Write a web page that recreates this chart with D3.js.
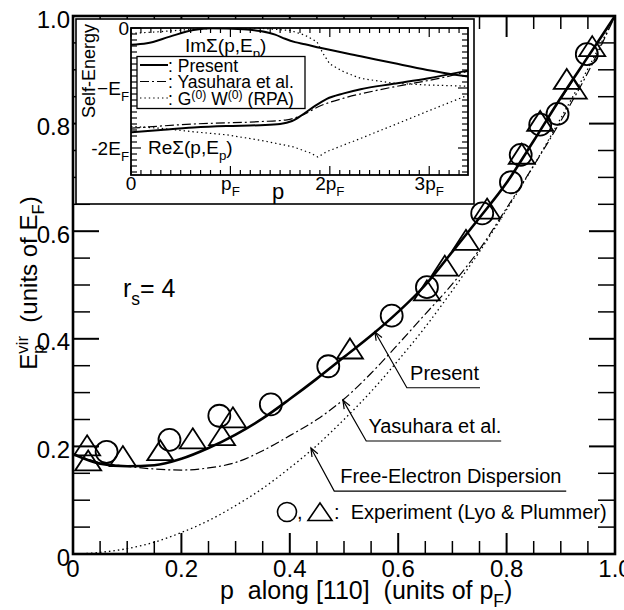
<!DOCTYPE html>
<html>
<head>
<meta charset="utf-8">
<script src="https://cdn.jsdelivr.net/npm/d3@7"></script>
<style>
  body { margin: 0; background: #fff; }
  svg { display: block; }
  text { font-family: "Liberation Sans", Arial, Helvetica, sans-serif; fill: #000; white-space: pre; }
</style>
</head>
<body>
<svg id="chart" width="624" height="610"></svg>
<script>
// ---- main panel data (p in units of pF, E in units of EF) ----
const pGrid = [0, 0.05, 0.1, 0.15, 0.2, 0.25, 0.3, 0.35, 0.4, 0.45, 0.5,
               0.55, 0.6, 0.65, 0.7, 0.75, 0.8, 0.85, 0.9, 0.95, 1.0];
const presentE  = [0.186, 0.168, 0.163, 0.165, 0.177, 0.197, 0.222, 0.252, 0.288, 0.326, 0.366,
                   0.406, 0.450, 0.500, 0.562, 0.625, 0.690, 0.768, 0.848, 0.924, 1.0];
const yasuharaE = [0.186, 0.170, 0.163, 0.158, 0.156, 0.160, 0.170, 0.192, 0.220, 0.250, 0.288,
                   0.336, 0.390, 0.446, 0.502, 0.566, 0.643, 0.722, 0.805, 0.895, 1.0];
const freeE     = [0, 0.003, 0.01, 0.022, 0.04, 0.062, 0.09, 0.122, 0.16, 0.202, 0.25,
                   0.302, 0.36, 0.422, 0.49, 0.562, 0.64, 0.722, 0.81, 0.902, 1.0];

// experiment (Lyo & Plummer)
const circleP = [0.062, 0.178, 0.270, 0.365, 0.471, 0.588, 0.653, 0.755, 0.808, 0.826, 0.862, 0.894, 0.948];
const circleE = [0.190, 0.212, 0.257, 0.278, 0.349, 0.443, 0.496, 0.633, 0.691, 0.742, 0.798, 0.818, 0.929];
const triP = [0.026, 0.028, 0.092, 0.161, 0.221, 0.275, 0.295, 0.511, 0.653, 0.686, 0.725, 0.764, 0.828, 0.862, 0.911, 0.924, 0.958];
const triE = [0.202, 0.174, 0.182, 0.193, 0.215, 0.221, 0.254, 0.382, 0.490, 0.536, 0.584, 0.642, 0.744, 0.805, 0.883, 0.865, 0.944];

// ---- inset data (p in pF, self-energy in EF) ----
const imPresentP = [0, 0.16, 0.39, 0.63, 0.8, 1.13, 1.3, 1.45, 1.55, 1.65, 1.75, 1.9, 2.31, 2.64, 2.98, 3.39];
const imPresentV = [-0.28, -0.256, -0.144, -0.033, -0.006, -0.022, -0.05, -0.11, -0.18, -0.235, -0.27, -0.33, -0.47, -0.585, -0.70, -0.81];
const rePresentP = [0, 0.3, 0.63, 0.96, 1.3, 1.5, 1.62, 1.72, 1.84, 1.97, 2.14, 2.31, 2.64, 2.98, 3.39];
const rePresentV = [-1.74, -1.70, -1.66, -1.635, -1.62, -1.60, -1.55, -1.45, -1.31, -1.18, -1.09, -1.02, -0.93, -0.84, -0.71];
const reYasuharaP = [0, 0.63, 1.3, 1.57, 1.7, 1.9, 2.14, 2.47, 2.81, 3.1, 3.39];
const reYasuharaV = [-1.67, -1.60, -1.56, -1.53, -1.47, -1.30, -1.17, -1.04, -0.93, -0.84, -0.72];
const imRpaP = [0, 0.3, 0.63, 1.0, 1.3, 1.6, 1.75, 1.87, 1.93, 2.0, 2.14, 2.31, 2.64, 2.98, 3.39];
const imRpaV = [-0.09, -0.06, -0.02, 0, -0.005, -0.04, -0.12, -0.23, -0.42, -0.6, -0.73, -0.84, -0.92, -0.95, -0.97];
const reRpaP = [0, 0.29, 0.63, 0.96, 1.3, 1.63, 1.8, 1.88, 1.97, 2.31, 2.64, 2.98, 3.39];
const reRpaV = [-1.64, -1.67, -1.73, -1.78, -1.87, -1.98, -2.08, -2.15, -2.06, -1.84, -1.62, -1.39, -1.12];

const svg = d3.select("#chart");
const x = d3.scaleLinear().domain([0, 1]).range([73, 615]);
const y = d3.scaleLinear().domain([0, 1]).range([554, 16]);

// text with sub/superscripts, measured piece by piece
function rich(parent, px, py, parts, size, anchor = "start", rot = 0, supShift = 0.38) {
  const outer = parent.append("g").attr("transform", `translate(${px},${py}) rotate(${rot})`);
  const g = outer.append("g");
  let cx = 0, stackW = 0;
  parts.forEach(([txt, mode, stack]) => {
    const fs = mode === "n" ? size : size * 0.7;
    const dy = mode === "sub" ? size * 0.3 : mode === "sup" ? -size * supShift : 0;
    const t = g.append("text").attr("x", cx).attr("y", dy).attr("font-size", fs).text(txt);
    const w = t.node().getComputedTextLength();
    if (stack) stackW = w;
    else { cx += Math.max(w, stackW); stackW = 0; }
  });
  const shift = anchor === "middle" ? -cx / 2 : anchor === "end" ? -cx : 0;
  g.attr("transform", `translate(${shift},0)`);
  return outer;
}

// ---- main axes ticks ----
const tickG = svg.append("g").attr("stroke", "#000");
for (let i = 0; i <= 20; i++) {
  const v = i / 20, major = i % 4 === 0;
  const sw = major ? 2 : 1.5;
  const lv = major ? 26 : 17, lh = major ? 21 : 13;
  tickG.append("line").attr("x1", x(0)).attr("x2", x(0) + lv).attr("y1", y(v)).attr("y2", y(v)).attr("stroke-width", sw);
  tickG.append("line").attr("x1", x(1)).attr("x2", x(1) - lv).attr("y1", y(v)).attr("y2", y(v)).attr("stroke-width", sw);
  tickG.append("line").attr("x1", x(v)).attr("x2", x(v)).attr("y1", y(0)).attr("y2", y(0) - lh).attr("stroke-width", sw);
  tickG.append("line").attr("x1", x(v)).attr("x2", x(v)).attr("y1", y(1)).attr("y2", y(1) + lh).attr("stroke-width", sw);
}
const yLabels = ["0", "0.2", "0.4", "0.6", "0.8", "1.0"];
const xLabels = ["0", "0.2", "0.4", "0.6", "0.8", "1.0"];
yLabels.forEach((s, i) => {
  svg.append("text").attr("x", 70).attr("y", y(i * 0.2) + 11.5).attr("text-anchor", "end").attr("font-size", 24).text(s);
});
xLabels.forEach((s, i) => {
  svg.append("text").attr("x", x(i * 0.2)).attr("y", 577).attr("text-anchor", "middle").attr("font-size", 24).text(s);
});

rich(svg, 37, 283, [["E", "n"], ["p", "sub", true], ["vir", "sup"], ["  (units of E", "n"], ["F", "sub"], [")", "n"]], 24, "middle", -90);
rich(svg, 220, 599, [["p  along [110]  (units of p", "n"], ["F", "sub"], [")", "n"]], 25);
rich(svg, 123, 297, [["r", "n"], ["s", "sub"], ["= 4", "n"]], 25);

// ---- main curves ----
const mline = d3.line().x(d => x(d[0])).y(d => y(d[1])).curve(d3.curveMonotoneX);
svg.append("path").datum(pGrid.map((p, i) => [p, freeE[i]])).attr("d", mline)
  .attr("fill", "none").attr("stroke", "#000").attr("stroke-width", 1.3).attr("stroke-dasharray", "1.5,3");
svg.append("path").datum(pGrid.map((p, i) => [p, yasuharaE[i]])).attr("d", mline)
  .attr("fill", "none").attr("stroke", "#000").attr("stroke-width", 1.2).attr("stroke-dasharray", "9,3,2,3");
svg.append("path").datum(pGrid.map((p, i) => [p, presentE[i]])).attr("d", mline)
  .attr("fill", "none").attr("stroke", "#000").attr("stroke-width", 2.6);

// experiment markers
svg.append("g").selectAll("circle").data(circleP.map((p, i) => [p, circleE[i]])).join("circle")
  .attr("cx", d => x(d[0])).attr("cy", d => y(d[1])).attr("r", 11)
  .attr("fill", "none").attr("stroke", "#000").attr("stroke-width", 1.8);
const triPath = "M0,-10L13,10L-13,10Z";
svg.append("g").selectAll("path").data(triP.map((p, i) => [p, triE[i]])).join("path")
  .attr("transform", d => `translate(${x(d[0])},${y(d[1])})`).attr("d", triPath)
  .attr("fill", "none").attr("stroke", "#000").attr("stroke-width", 1.8).attr("stroke-linejoin", "miter");

// ---- annotations ----
const notes = [
  { text: "Present", tip: [0.557, 0.413], base: [0.616, 0.309], end: 0.751, tx: 0.622, ty: 0.323 },
  { text: "Yasuhara et al.", tip: [0.498, 0.286], base: [0.541, 0.210], end: 0.790, tx: 0.545, ty: 0.225 },
  { text: "Free-Electron Dispersion", tip: [0.439, 0.197], base: [0.482, 0.117], end: 0.910, tx: 0.493, ty: 0.132 },
];
notes.forEach(n => {
  const tx = x(n.tip[0]), ty = y(n.tip[1]), bx = x(n.base[0]), by = y(n.base[1]);
  svg.append("path").attr("d", `M${x(n.end)},${by}L${bx},${by}L${tx},${ty}`)
    .attr("fill", "none").attr("stroke", "#000").attr("stroke-width", 1.2);
  const a = Math.atan2(by - ty, bx - tx), L = 9, da = 0.38;
  svg.append("path")
    .attr("d", `M${tx + L * Math.cos(a - da)},${ty + L * Math.sin(a - da)}L${tx},${ty}L${tx + L * Math.cos(a + da)},${ty + L * Math.sin(a + da)}`)
    .attr("fill", "none").attr("stroke", "#000").attr("stroke-width", 1.2);
  svg.append("text").attr("x", x(n.tx)).attr("y", y(n.ty)).attr("font-size", 20).text(n.text);
});

// experiment legend
svg.append("circle").attr("cx", 287).attr("cy", 512).attr("r", 9.5).attr("fill", "none").attr("stroke", "#000").attr("stroke-width", 1.6);
svg.append("text").attr("x", 297).attr("y", 519).attr("font-size", 20).text(",");
svg.append("path").attr("transform", "translate(320,512)").attr("d", "M0,-9L12,8.5L-12,8.5Z")
  .attr("fill", "none").attr("stroke", "#000").attr("stroke-width", 1.6);
svg.append("text").attr("x", 334).attr("y", 519).attr("font-size", 20).text(":  Experiment (Lyo & Plummer)");

// main frame
svg.append("rect").attr("x", x(0)).attr("y", y(1)).attr("width", x(1) - x(0)).attr("height", y(0) - y(1))
  .attr("fill", "none").attr("stroke", "#000").attr("stroke-width", 2.6);

// ---- inset ----
const ix = d3.scaleLinear().domain([0, 3.39]).range([131, 468]);
const iy = d3.scaleLinear().domain([-2.45, 0]).range([175, 28]);
svg.append("rect").attr("x", 76).attr("y", 19).attr("width", 398).attr("height", 185)
  .attr("fill", "#fff").attr("stroke", "#000").attr("stroke-width", 1.6);

svg.append("clipPath").attr("id", "iclip").append("rect")
  .attr("x", 131).attr("y", 28).attr("width", 337).attr("height", 147);
const ig = svg.append("g").attr("clip-path", "url(#iclip)");
const iline = d3.line().x(d => ix(d[0])).y(d => iy(d[1]));
const zip = (ps, vs) => ps.map((p, i) => [p, vs[i]]);
[[imRpaP, imRpaV], [reRpaP, reRpaV]].forEach(([ps, vs]) => {
  ig.append("path").datum(zip(ps, vs)).attr("d", iline.curve(d3.curveLinear))
    .attr("fill", "none").attr("stroke", "#000").attr("stroke-width", 1.2).attr("stroke-dasharray", "1.4,3");
});
iline.curve(d3.curveMonotoneX);
ig.append("path").datum(zip(reYasuharaP, reYasuharaV)).attr("d", iline)
  .attr("fill", "none").attr("stroke", "#000").attr("stroke-width", 1.2).attr("stroke-dasharray", "9,3,2,3");
[[imPresentP, imPresentV], [rePresentP, rePresentV]].forEach(([ps, vs]) => {
  ig.append("path").datum(zip(ps, vs)).attr("d", iline)
    .attr("fill", "none").attr("stroke", "#000").attr("stroke-width", 2);
});

// inset ticks
const itg = svg.append("g").attr("stroke", "#000").attr("stroke-width", 1.2);
for (let i = 0; i <= 33; i++) {
  const v = i / 10, major = i % 10 === 0, L = major ? 9 : 5;
  itg.append("line").attr("x1", ix(v)).attr("x2", ix(v)).attr("y1", 175).attr("y2", 175 - L);
  itg.append("line").attr("x1", ix(v)).attr("x2", ix(v)).attr("y1", 28).attr("y2", 28 + L);
}
for (let i = 0; i <= 24; i++) {
  const v = -i / 10, major = i % 10 === 0, L = major ? 10 : 6;
  itg.append("line").attr("x1", 131).attr("x2", 131 + L).attr("y1", iy(v)).attr("y2", iy(v));
  itg.append("line").attr("x1", 468).attr("x2", 468 - L).attr("y1", iy(v)).attr("y2", iy(v));
}
svg.append("rect").attr("x", 131).attr("y", 28).attr("width", 337).attr("height", 147)
  .attr("fill", "none").attr("stroke", "#000").attr("stroke-width", 1.8);

// inset tick labels
const insetYLabels = [[0, [["0", "n"]]], [-1, [["\u2212E", "n"], ["F", "sub"]]], [-2, [["-2E", "n"], ["F", "sub"]]]];
insetYLabels.forEach(([v, parts]) => rich(svg, 129, iy(v) + 7, parts, 19, "end"));
const insetXLabels = [[0, [["0", "n"]]], [1, [["p", "n"], ["F", "sub"]]], [2, [["2p", "n"], ["F", "sub"]]], [3, [["3p", "n"], ["F", "sub"]]]];
insetXLabels.forEach(([v, parts]) => rich(svg, ix(v), 190, parts, 19, "middle"));
svg.append("text").attr("x", 278).attr("y", 199).attr("text-anchor", "middle").attr("font-size", 22).text("p");
svg.append("text").attr("transform", "translate(95,71) rotate(-90)").attr("text-anchor", "middle").attr("font-size", 18).text("Self-Energy");

rich(svg, 185, 52, [["Im\u03A3(p,E", "n"], ["p", "sub"], [")", "n"]], 19);
rich(svg, 148, 154, [["Re\u03A3(p,E", "n"], ["p", "sub"], [")", "n"]], 19);

// inset legend
svg.append("rect").attr("x", 137).attr("y", 56.5).attr("width", 168).attr("height", 52)
  .attr("fill", "#fff").attr("stroke", "#000").attr("stroke-width", 1.3);
const legRows = [
  { y: 65, dash: null, w: 2, parts: [[": Present", "n"]] },
  { y: 81.5, dash: "9,3,2,3", w: 1.2, parts: [[": Yasuhara et al.", "n"]] },
  { y: 98, dash: "1.4,3", w: 1.2, parts: [[": G", "n"], ["(0)", "sup"], [" W", "n"], ["(0)", "sup"], [" (RPA)", "n"]] },
];
legRows.forEach(r => {
  svg.append("line").attr("x1", 140).attr("x2", 168).attr("y1", r.y).attr("y2", r.y)
    .attr("stroke", "#000").attr("stroke-width", r.w).attr("stroke-dasharray", r.dash);
  rich(svg, 168, r.y + 6.5, r.parts, 17.5, "start", 0, 0.3);
});
</script>
</body>
</html>
